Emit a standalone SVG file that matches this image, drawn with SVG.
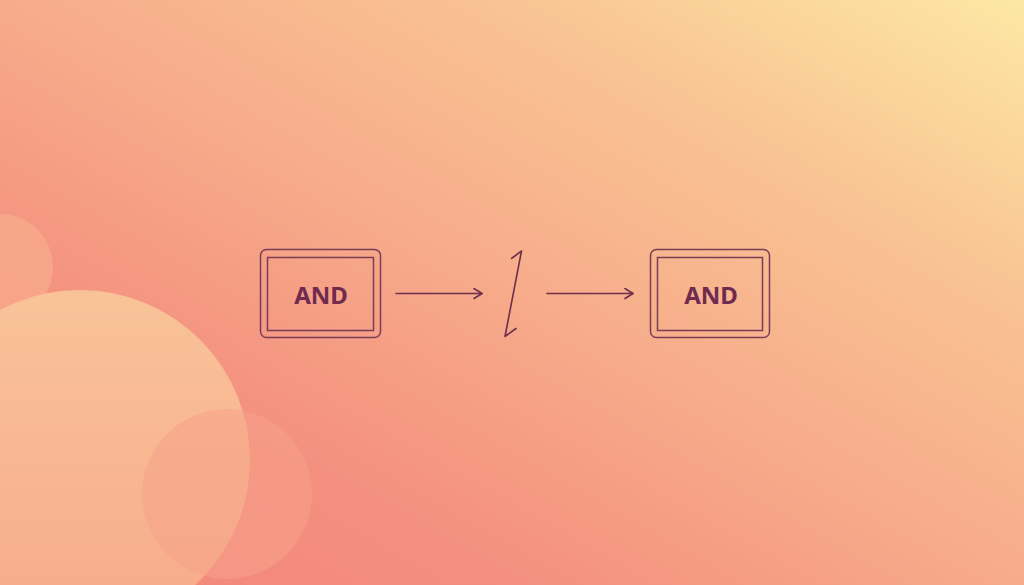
<svg xmlns="http://www.w3.org/2000/svg" width="1024" height="585" viewBox="0 0 1024 585">
  <defs>
    <linearGradient id="bg" x1="0" y1="1" x2="1" y2="0">
      <stop offset="0" stop-color="#f2867a"/>
      <stop offset="0.25" stop-color="#f48f7f"/>
      <stop offset="0.5" stop-color="#f7ab8a"/>
      <stop offset="0.75" stop-color="#f9c493"/>
      <stop offset="1" stop-color="#fde8a5"/>
    </linearGradient>
    <linearGradient id="bigc" x1="0" y1="0" x2="0" y2="1">
      <stop offset="0" stop-color="#f9c398"/>
      <stop offset="1" stop-color="#f7aa8a"/>
    </linearGradient>
    <marker id="arr" viewBox="0 0 10 12" refX="9" refY="6" markerWidth="10" markerHeight="12" markerUnits="userSpaceOnUse" orient="auto">
      <path d="M1,1 L9,6 L1,11" fill="none" stroke="#6e2f50" stroke-width="1.6" stroke-linecap="round" stroke-linejoin="round"/>
    </marker>
    <style>
      .outer { fill: none; stroke: #7a3c58; stroke-width: 1.5; }
      .inner { fill: none; stroke: #7a3c58; stroke-width: 1.5; }
      .label { font-family: "Noto Sans", "Liberation Sans", sans-serif; font-weight: 700; font-size: 24px; fill: #6e2a4f; text-anchor: middle; }
      .conn { fill: none; stroke: #6e2f50; stroke-width: 1.6; stroke-linecap: round; stroke-linejoin: round; }
    </style>
  </defs>

  <rect width="1024" height="585" fill="url(#bg)"/>

  <g id="decor">
    <circle cx="0" cy="267" r="53" fill="#f7a88a" opacity="0.85"/>
    <circle cx="80" cy="460" r="170" fill="url(#bigc)"/>
    <circle cx="227" cy="494" r="85" fill="#f5a38a" opacity="0.55"/>
  </g>

  <g id="node-and-1">
    <rect class="outer" x="260.5" y="249.5" width="120" height="88" rx="6"/>
    <rect class="inner" x="267.5" y="257.5" width="106" height="73"/>
    <text class="label" x="321" y="304">AND</text>
  </g>

  <g id="node-and-2">
    <rect class="outer" x="650.5" y="249.5" width="119" height="88" rx="6"/>
    <rect class="inner" x="657.5" y="257.5" width="105" height="73"/>
    <text class="label" x="711" y="304">AND</text>
  </g>

  <g id="connectors">
    <line class="conn" x1="396" y1="293.5" x2="482" y2="293.5" marker-end="url(#arr)"/>
    <path id="break" class="conn" d="M511.5,258.5 L521.5,251 L505,336.5 L516,328.5"/>
    <line class="conn" x1="547" y1="293.5" x2="633" y2="293.5" marker-end="url(#arr)"/>
  </g>
</svg>
